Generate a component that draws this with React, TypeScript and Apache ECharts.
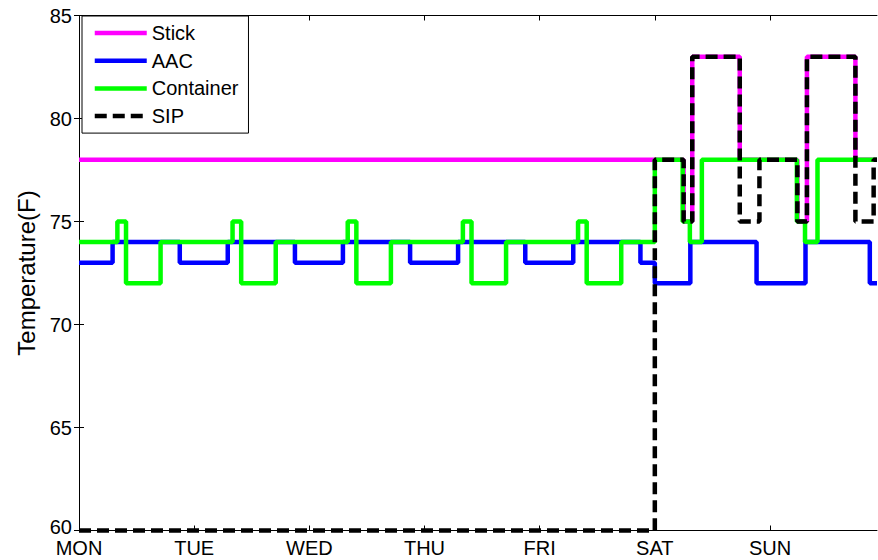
import React, { useEffect, useRef } from 'react';
import * as echarts from 'echarts';

// Day tick labels and their positions (hours since Monday 00:00)
const dayLabels = ['MON', 'TUE', 'WED', 'THU', 'FRI', 'SAT', 'SUN'];
const dayTickHours = [0, 24, 48, 72, 96, 120, 144];
const xMaxHours = 166.3;

// Temperature axis
const yMin = 60;
const yMax = 85;
const yStep = 5;

// Step series: [hour where value starts, temperature F]
const stickData = [
  [0, 78], [126, 75], [127.8, 83], [137.7, 78],
  [149.7, 75], [151.7, 83], [161.8, 78], [166.3, 78],
];

const aacData = [
  [0, 73], [7, 74], [21, 73], [31, 74], [45, 73], [55, 74], [69, 73],
  [79, 74], [93, 73], [103, 74], [117, 73], [120, 72], [127.4, 74],
  [141.2, 72], [151.4, 74], [164.8, 72], [166.3, 72],
];

const containerData = [
  [0, 74], [8, 75], [9.8, 72], [17, 74],
  [32, 75], [33.8, 72], [41, 74],
  [56, 75], [57.8, 72], [65, 74],
  [80, 75], [81.8, 72], [89, 74],
  [104, 75], [105.8, 72], [113, 74],
  [120, 78], [125.8, 75], [127.3, 74], [129.8, 78],
  [149.6, 75], [151.3, 74], [153.9, 78], [166.3, 78],
];

const sipData = [
  [0, 60], [120, 78], [126, 75], [127.8, 83], [137.7, 75], [141.8, 78],
  [149.7, 75], [151.7, 83], [161.8, 75], [165.6, 78], [166.3, 78],
];

const seriesNames = ['Stick', 'AAC', 'Container', 'SIP'];
const seriesColors = ['#ff00ff', '#0000ff', '#00ff00', '#000000'];
const seriesData = [stickData, aacData, containerData, sipData];

const FONT = 'Liberation Sans, Arial, Helvetica, sans-serif';

export default function App() {
  const ref = useRef<HTMLDivElement>(null);

  useEffect(() => {
    if (!ref.current) return;
    const chart = echarts.init(ref.current, null, { renderer: 'svg' });

    const xCommon = {
      type: 'value' as const,
      min: 0,
      max: xMaxHours,
      splitLine: { show: false },
      axisLine: { show: true, lineStyle: { color: '#000', width: 1 } },
      axisTick: {
        show: true,
        inside: true,
        length: 5,
        customValues: dayTickHours,
        lineStyle: { color: '#000', width: 1 },
      },
    };
    const yCommon = {
      type: 'value' as const,
      min: yMin,
      max: yMax,
      interval: yStep,
      splitLine: { show: false },
      axisLine: { show: true, lineStyle: { color: '#000', width: 1 } },
      axisTick: { show: true, inside: true, length: 5, lineStyle: { color: '#000', width: 1 } },
    };

    chart.setOption({
      animation: false,
      backgroundColor: '#ffffff',
      grid: { left: 79, right: 1, top: 15.5, bottom: 29.5, containLabel: false },
      xAxis: [
        {
          ...xCommon,
          position: 'bottom',
          axisLabel: {
            show: true,
            customValues: dayTickHours,
            formatter: (v: number) => dayLabels[Math.round(v / 24)] ?? '',
            color: '#000',
            fontSize: 20,
            lineHeight: 16,
            fontFamily: FONT,
            margin: 9,
          },
        },
        {
          ...xCommon,
          position: 'top',
          axisLabel: { show: false },
        },
      ],
      yAxis: [
        {
          ...yCommon,
          position: 'left',
          name: 'Temperature(F)',
          nameLocation: 'middle',
          nameGap: 39,
          nameTextStyle: { color: '#000', fontSize: 24, fontFamily: FONT },
          axisLabel: {
            color: '#000',
            fontSize: 20,
            lineHeight: 16,
            fontFamily: FONT,
            margin: 7,
            formatter: (v: number) => (v === yMin ? '{low|' + v + '}' : String(v)),
            rich: {
              low: {
                color: '#000',
                fontSize: 20,
                lineHeight: 16,
                fontFamily: FONT,
                padding: [0, 0, 7, 0],
              },
            },
          },
        },
        {
          ...yCommon,
          position: 'right',
          axisLabel: { show: false },
        },
      ],
      legend: {
        orient: 'vertical',
        left: 82,
        top: 16,
        padding: [7, 10, 7, 10.5],
        itemGap: 7.7,
        itemWidth: 52,
        itemHeight: 20,
        backgroundColor: '#ffffff',
        borderColor: '#000',
        borderWidth: 1,
        itemStyle: { opacity: 0 },
        lineStyle: { width: 4.5 },
        textStyle: { color: '#000', fontSize: 20, fontFamily: FONT },
        data: seriesNames,
      },
      series: seriesNames.map((name, i) => ({
        name,
        type: 'line',
        step: 'end',
        symbol: 'none',
        clip: false,
        data: seriesData[i],
        color: seriesColors[i],
        lineStyle: {
          color: seriesColors[i],
          width: 4.5,
          type: name === 'SIP' ? [12, 6] : 'solid',
        },
        itemStyle: { color: seriesColors[i] },
      })),
    });

    return () => chart.dispose();
  }, []);

  return (
    <div
      ref={ref}
      style={{ position: 'fixed', left: 0, top: 0, width: 878, height: 560 }}
    />
  );
}
